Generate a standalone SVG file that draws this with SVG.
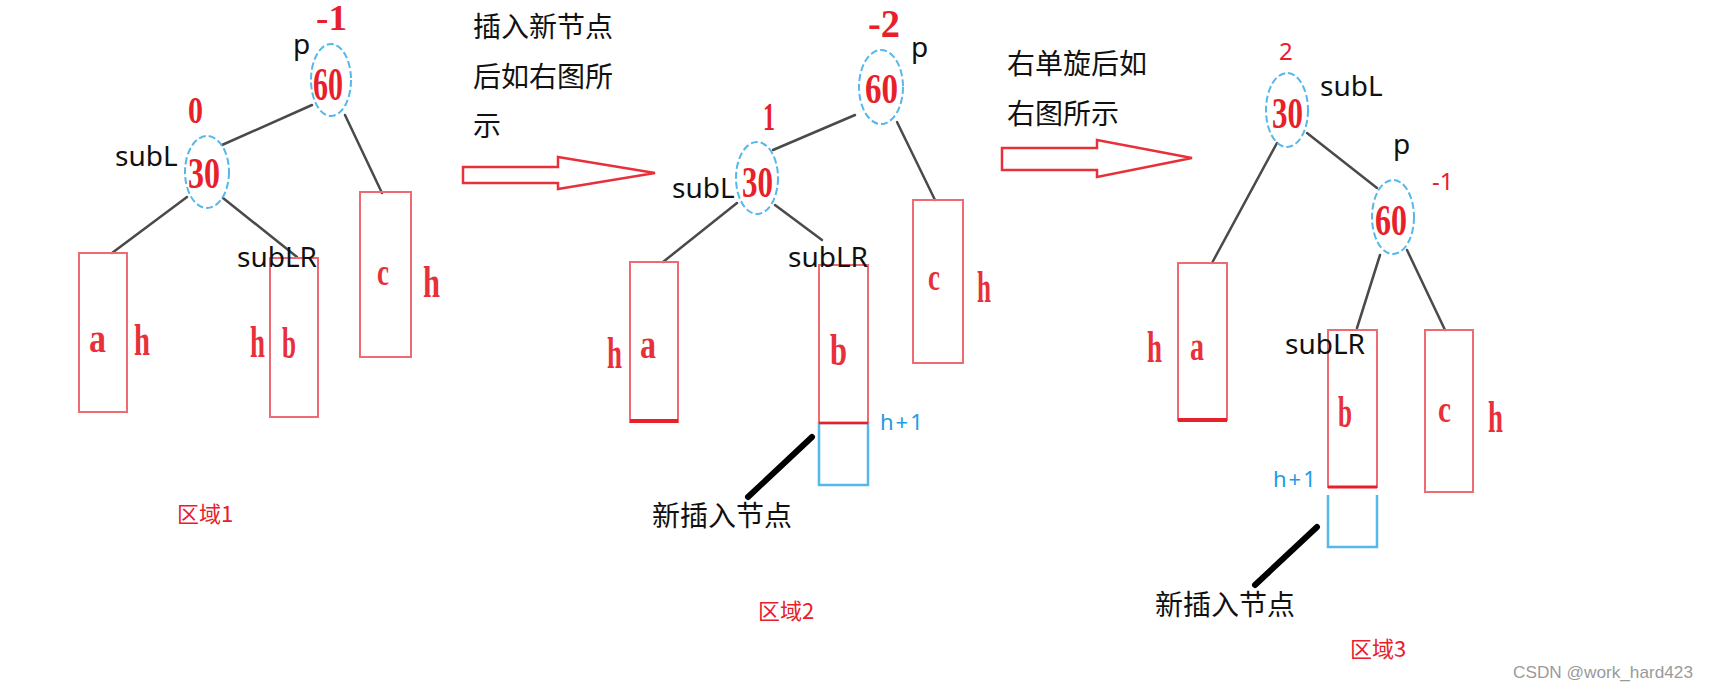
<svg xmlns="http://www.w3.org/2000/svg" width="1709" height="690" viewBox="0 0 1709 690">
<style>
.bg{fill:#ffffff}
.ell{fill:none;stroke:#55b8ea;stroke-width:2;stroke-dasharray:7 3}
.edge{stroke:#4a4a4a;stroke-width:2.5;fill:none;stroke-linecap:round}
.box{fill:none;stroke:#f06a72;stroke-width:2}
.thick{stroke:#e8202a;stroke-width:4}
.nbox{fill:none;stroke:#55b8ea;stroke-width:2.5}
.ptr{stroke:#000;stroke-width:6;stroke-linecap:round}
.arrow{fill:#fff;stroke:#e8303a;stroke-width:2.5}
.num{font-family:"Liberation Serif",serif;font-weight:bold;fill:#e8202a}
.let{font-family:"Liberation Serif",serif;font-weight:bold;fill:#e8303a}
.lab{font-family:"Noto Sans","Noto Sans CJK SC",sans-serif;font-size:28px;fill:#111}
.cn{font-family:"Noto Sans CJK SC",sans-serif;font-size:28px;fill:#111}
.area{font-family:"Noto Sans CJK SC",sans-serif;font-size:22px;fill:#e8202a}
.blue{font-family:"Noto Sans",sans-serif;font-size:22px;fill:#1e9be8;letter-spacing:2px}
.rs{font-family:"Noto Sans",sans-serif;font-size:24px;fill:#e8202a}
.wm{font-family:"Liberation Sans",sans-serif;font-size:17px;fill:#9a9a9a}
</style>
<rect class="bg" x="0" y="0" width="1709" height="690"/>

<!-- connectors -->
<g id="connectors">
  <line class="edge" x1="312" y1="105" x2="222" y2="145"/>
  <line class="edge" x1="345" y1="115" x2="382" y2="193"/>
  <line class="edge" x1="187" y1="197" x2="112" y2="253"/>
  <line class="edge" x1="223" y1="198" x2="297" y2="257"/>
  <line class="edge" x1="855" y1="115" x2="773" y2="150"/>
  <line class="edge" x1="897" y1="122" x2="935" y2="200"/>
  <line class="edge" x1="737" y1="203" x2="663" y2="262"/>
  <line class="edge" x1="775" y1="205" x2="822" y2="240"/>
  <line class="edge" x1="1307" y1="133" x2="1377" y2="188"/>
  <line class="edge" x1="1277" y1="143" x2="1212" y2="263"/>
  <line class="edge" x1="1380" y1="255" x2="1357" y2="328"/>
  <line class="edge" x1="1407" y1="250" x2="1445" y2="330"/>
  <line class="ptr" x1="812" y1="437" x2="748" y2="497"/>
  <line class="ptr" x1="1317" y1="527" x2="1255" y2="585"/>
</g>

<!-- region 1 -->
<g id="r1-p60">
  <ellipse class="ell" cx="331" cy="80" rx="20" ry="36"/>
  <text class="num" x="313" y="100" font-size="46" textLength="30" lengthAdjust="spacingAndGlyphs">60</text>
  <text class="num" x="316" y="30" font-size="36" textLength="31" lengthAdjust="spacingAndGlyphs">-1</text>
  <text class="lab" x="293" y="54">p</text>
</g>
<g id="r1-subL30">
  <ellipse class="ell" cx="207" cy="172" rx="22" ry="36"/>
  <text class="num" x="188" y="188" font-size="45" textLength="32" lengthAdjust="spacingAndGlyphs">30</text>
  <text class="num" x="188" y="123" font-size="38" textLength="15" lengthAdjust="spacingAndGlyphs">0</text>
  <text class="lab" x="115" y="166">subL</text>
</g>
<g id="r1-a">
  <rect class="box" x="79" y="253" width="48" height="159"/>
  <text class="let" x="89" y="352" font-size="40" textLength="17" lengthAdjust="spacingAndGlyphs">a</text>
  <text class="let" x="134" y="355" font-size="44" textLength="16" lengthAdjust="spacingAndGlyphs">h</text>
</g>
<g id="r1-b">
  <rect class="box" x="270" y="258" width="48" height="159"/>
  <text class="let" x="282" y="358" font-size="44" textLength="14" lengthAdjust="spacingAndGlyphs">b</text>
  <text class="let" x="250" y="357" font-size="44" textLength="15" lengthAdjust="spacingAndGlyphs">h</text>
  <text class="lab" x="237" y="267">subLR</text>
</g>
<g id="r1-c">
  <rect class="box" x="360" y="192" width="51" height="165"/>
  <text class="let" x="377" y="285" font-size="38" textLength="12" lengthAdjust="spacingAndGlyphs">c</text>
  <text class="let" x="423" y="297" font-size="44" textLength="17" lengthAdjust="spacingAndGlyphs">h</text>
</g>
<g id="r1-area"><text class="area" x="177" y="522">区域1</text></g>

<!-- arrow 1 -->
<g id="arrow1">
  <polygon class="arrow" points="463,167 558,167 558,157 655,173 558,189 558,183 463,183"/>
  <text class="cn" x="473" y="37">插入新节点</text>
  <text class="cn" x="473" y="87">后如右图所</text>
  <text class="cn" x="473" y="136">示</text>
</g>

<!-- region 2 -->
<g id="r2-p60">
  <ellipse class="ell" cx="881" cy="87" rx="22" ry="37"/>
  <text class="num" x="865" y="103" font-size="42" textLength="33" lengthAdjust="spacingAndGlyphs">60</text>
  <text class="num" x="868" y="37" font-size="40" textLength="32" lengthAdjust="spacingAndGlyphs">-2</text>
  <text class="lab" x="911" y="57">p</text>
</g>
<g id="r2-subL30">
  <ellipse class="ell" cx="757" cy="178" rx="21" ry="36"/>
  <text class="num" x="742" y="197" font-size="45" textLength="31" lengthAdjust="spacingAndGlyphs">30</text>
  <text class="num" x="763" y="130" font-size="40" textLength="12" lengthAdjust="spacingAndGlyphs">1</text>
  <text class="lab" x="672" y="198">subL</text>
</g>
<g id="r2-a">
  <rect class="box" x="630" y="262" width="48" height="160"/>
  <line class="thick" x1="630" y1="421" x2="678" y2="421"/>
  <text class="let" x="640" y="358" font-size="40" textLength="16" lengthAdjust="spacingAndGlyphs">a</text>
  <text class="let" x="607" y="368" font-size="44" textLength="15" lengthAdjust="spacingAndGlyphs">h</text>
</g>
<g id="r2-b">
  <rect class="nbox" x="819" y="423" width="49" height="62"/>
  <rect class="box" x="819" y="265" width="49" height="158"/>
  <line x1="819" y1="423" x2="868" y2="423" stroke="#e8202a" stroke-width="2.5"/>
  <text class="let" x="830" y="365" font-size="44" textLength="17" lengthAdjust="spacingAndGlyphs">b</text>
  <text class="lab" x="788" y="267">subLR</text>
  <text class="blue" x="880" y="430">h+1</text>
</g>
<g id="r2-c">
  <rect class="box" x="913" y="200" width="50" height="163"/>
  <text class="let" x="928" y="290" font-size="38" textLength="12" lengthAdjust="spacingAndGlyphs">c</text>
  <text class="let" x="977" y="302" font-size="44" textLength="14" lengthAdjust="spacingAndGlyphs">h</text>
</g>
<g id="r2-new"><text class="cn" x="652" y="526">新插入节点</text></g>
<g id="r2-area"><text class="area" x="758" y="619">区域2</text></g>

<!-- arrow 2 -->
<g id="arrow2">
  <polygon class="arrow" points="1002,148 1097,148 1097,140 1192,158 1097,177 1097,170 1002,170"/>
  <text class="cn" x="1007" y="74">右单旋后如</text>
  <text class="cn" x="1007" y="124">右图所示</text>
</g>

<!-- region 3 -->
<g id="r3-subL30">
  <ellipse class="ell" cx="1287" cy="110" rx="21" ry="37"/>
  <text class="num" x="1272" y="128" font-size="45" textLength="31" lengthAdjust="spacingAndGlyphs">30</text>
  <text class="rs" x="1279" y="60">2</text>
  <text class="lab" x="1320" y="96">subL</text>
</g>
<g id="r3-p60">
  <ellipse class="ell" cx="1393" cy="217" rx="21" ry="37"/>
  <text class="num" x="1375" y="235" font-size="45" textLength="32" lengthAdjust="spacingAndGlyphs">60</text>
  <text class="lab" x="1393" y="154">p</text>
  <text class="rs" x="1432" y="190">-1</text>
</g>
<g id="r3-a">
  <rect class="box" x="1178" y="263" width="49" height="157"/>
  <line class="thick" x1="1178" y1="420" x2="1227" y2="420"/>
  <text class="let" x="1190" y="360" font-size="40" textLength="14" lengthAdjust="spacingAndGlyphs">a</text>
  <text class="let" x="1147" y="362" font-size="44" textLength="15" lengthAdjust="spacingAndGlyphs">h</text>
</g>
<g id="r3-b">
  <rect class="box" x="1328" y="330" width="49" height="157"/>
  <line x1="1328" y1="487" x2="1377" y2="487" stroke="#e8202a" stroke-width="3"/>
  <text class="let" x="1338" y="427" font-size="44" textLength="14" lengthAdjust="spacingAndGlyphs">b</text>
  <text class="lab" x="1285" y="354">subLR</text>
  <text class="blue" x="1273" y="487">h+1</text>
  <polyline class="nbox" points="1328,495 1328,547 1377,547 1377,495"/>
</g>
<g id="r3-c">
  <rect class="box" x="1425" y="330" width="48" height="162"/>
  <text class="let" x="1438" y="422" font-size="38" textLength="13" lengthAdjust="spacingAndGlyphs">c</text>
  <text class="let" x="1488" y="432" font-size="44" textLength="15" lengthAdjust="spacingAndGlyphs">h</text>
</g>
<g id="r3-new"><text class="cn" x="1155" y="615">新插入节点</text></g>
<g id="r3-area"><text class="area" x="1350" y="657">区域3</text></g>

<g id="watermark"><text class="wm" x="1513" y="678" textLength="180" lengthAdjust="spacingAndGlyphs">CSDN @work_hard423</text></g>
</svg>
